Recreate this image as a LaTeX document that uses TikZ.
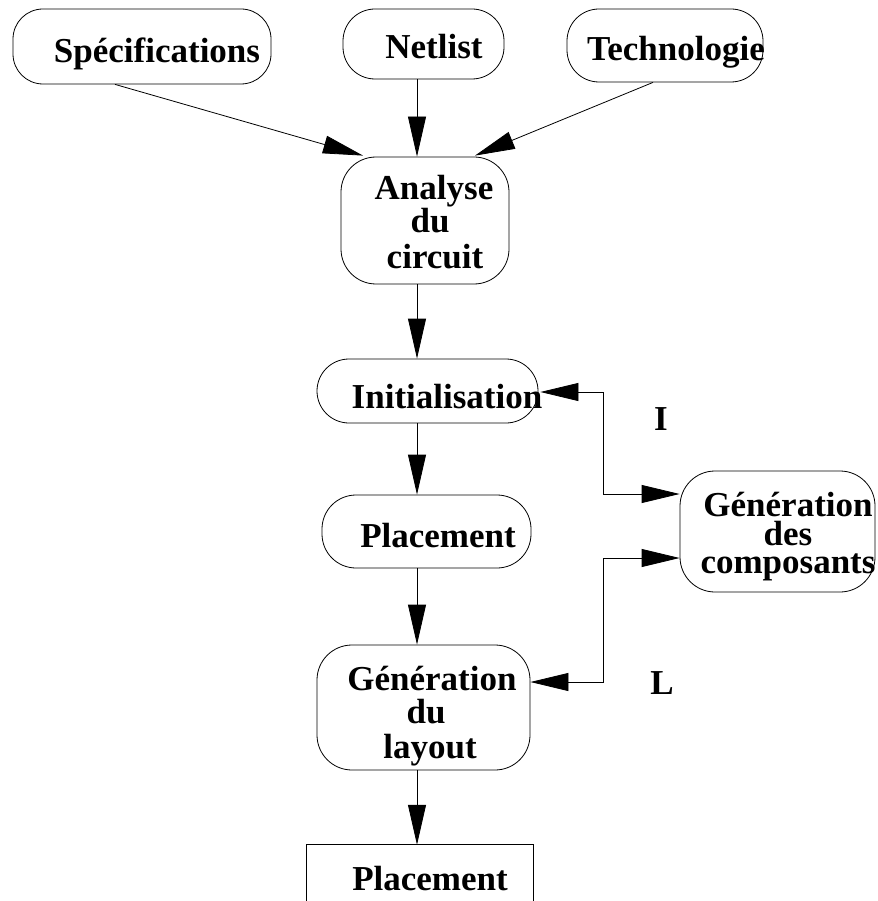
\documentclass[tikz,border=0pt]{standalone}
\usepackage{fontspec}
\setmainfont{Liberation Serif}
\usetikzlibrary{arrows.meta,calc}
\begin{document}
\begin{tikzpicture}[x=1pt,y=-1pt,
  box/.style={draw, line width=0.8pt, rectangle, inner sep=0pt},
  rbox/.style={box, rounded corners=30pt},
  txt/.style={font=\fontsize{35}{34}\selectfont\bfseries, inner sep=0pt, anchor=base},
  arr/.style={line width=0.8pt, -{Triangle[length=40pt,width=18pt]}},
  arrboth/.style={line width=0.8pt, {Triangle[length=38pt,width=18pt]}-{Triangle[length=38pt,width=18pt]}}]
\useasboundingbox (0,0) rectangle (877,901);
% boxes
\node[rbox, minimum width=258pt, minimum height=75pt] (spec) at (142,46.5) {};
\node[rbox, minimum width=161pt, minimum height=70pt, rounded corners=32pt] (net) at (423.5,44) {};
\node[rbox, minimum width=196pt, minimum height=73pt, rounded corners=32pt] (tech) at (665,45.5) {};
\node[rbox, minimum width=168pt, minimum height=127pt, rounded corners=35pt] (ana) at (425,220.5) {};
\node[rbox, minimum width=221pt, minimum height=64pt, rounded corners=32pt] (init) at (427.5,391) {};
\node[rbox, minimum width=209pt, minimum height=73pt, rounded corners=34pt] (plac) at (426.5,531.5) {};
\node[rbox, minimum width=195pt, minimum height=121pt, rounded corners=35pt] (gen) at (777.5,531.5) {};
\node[rbox, minimum width=213pt, minimum height=125pt, rounded corners=35pt] (lay) at (423.5,707.5) {};
\node[inner sep=0pt, minimum width=226pt, minimum height=112pt] (fin) at (420,901) {};
\draw[line width=0.8pt] (fin.west) -- (fin.north west) -- (fin.north east) -- (fin.east);
% texts
\node[txt] (spec-t) at (157,63) {Spécifications};
\node[txt] (net-t) at (434,59) {Netlist};
\node[txt] (tech-t) at (676,61) {Technologie};
\node[txt] (ana-t1) at (434,200) {Analyse};
\node[txt] (ana-t2) at (430,233) {du};
\node[txt] (ana-t3) at (435,268) {circuit};
\node[txt] (init-t) at (447,408) {Initialisation};
\node[txt] (plac-t) at (438,547) {Placement};
\node[txt, anchor=center, align=center, font=\fontsize{35}{28.5}\selectfont\bfseries] (gen-t) at (788,537) {Génération\\des\\composants};
\node[txt] (lay-t1) at (432,690) {Génération};
\node[txt] (lay-t2) at (426,723) {du};
\node[txt] (lay-t3) at (430,758) {layout};
\node[txt] (fin-t) at (430,890) {Placement};
\node[txt] (lab-i) at (661,430) {I};
\node[txt] (lab-l) at (662,694) {L};
% helper columns
\coordinate (cl) at (417,0);
\coordinate (cr) at (603,0);
% connectors
\draw[arr] ($(spec.south)+(-27,0)$) -- ($(ana.north)+(-62,-1)$);
\draw[arr] (net.south -| cl) -- (ana.north -| cl);
\draw[arr] ($(tech.south)+(-12,0)$) -- ($(ana.north)+(50,-1)$);
\draw[arr] (ana.south -| cl) -- (init.north -| cl);
\draw[arr] (init.south -| cl) -- (plac.north -| cl);
\draw[arr] (plac.south -| cl) -- (lay.north -| cl);
\draw[arr] (lay.south -| cl) -- (fin.north -| cl);
\coordinate (gi) at ($(gen.west)+(0,-37.5)$);
\coordinate (gl) at ($(gen.west)+(0,26.5)$);
\coordinate (ie) at ($(init.east)+(2,1)$);
\coordinate (le) at ($(lay.east)+(0,-25.5)$);
\draw[arrboth] (ie) -- (ie -| cr) -- (cr |- gi) -- (gi);
\draw[arrboth] (le) -- (le -| cr) -- (cr |- gl) -- (gl);
\end{tikzpicture}
\end{document}
